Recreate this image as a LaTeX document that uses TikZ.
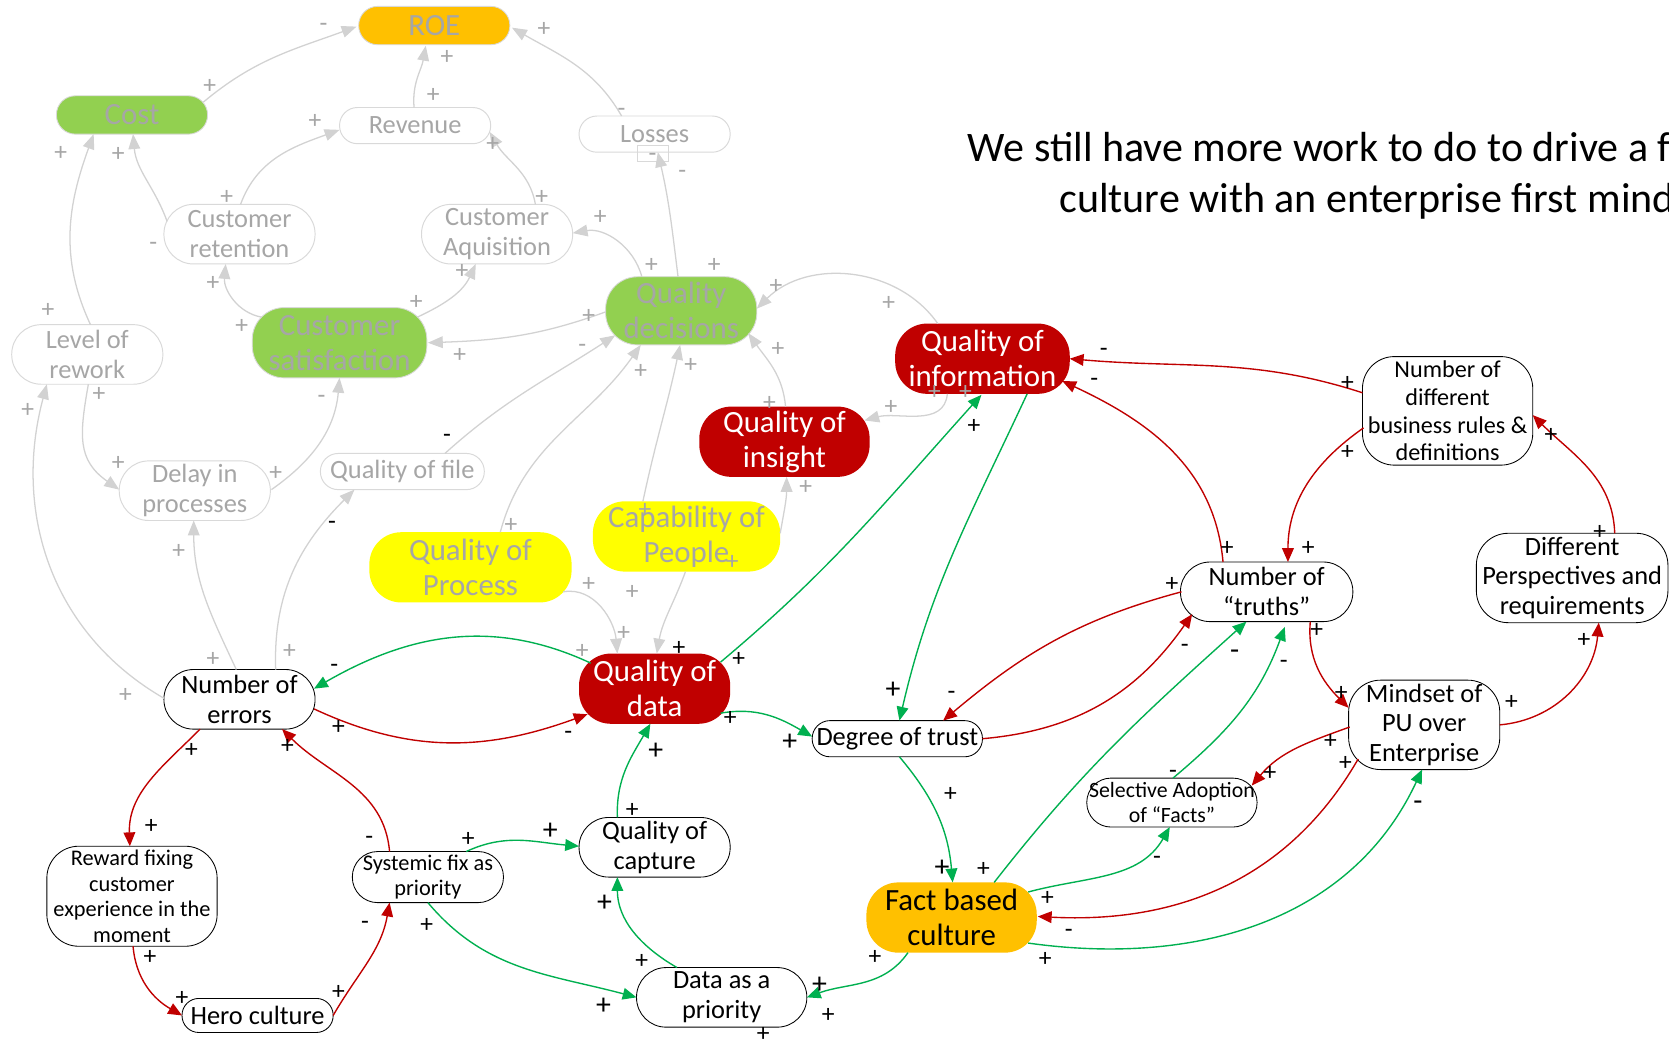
\documentclass[tikz,border=0pt]{standalone}
\usepackage{fontspec}
\setmainfont{Carlito}
\usetikzlibrary{arrows.meta,calc}
\definecolor{cRed}{HTML}{C00000}
\definecolor{cGreen}{HTML}{00B050}
\definecolor{cLime}{HTML}{92D050}
\definecolor{cOrange}{HTML}{FFC000}
\definecolor{cYellow}{HTML}{FFFF00}
\definecolor{fadeLine}{HTML}{D2D2D2}
\definecolor{fadeText}{HTML}{A6A6A6}
\definecolor{fadeBorder}{HTML}{D9D9D9}
\newcommand\fbig{\fontsize{29}{33}\selectfont}
\newcommand\fnorm{\fontsize{24.8}{28}\selectfont}
\newcommand\fbr{\fontsize{22.7}{26}\selectfont}
\newcommand\fsmall{\fontsize{21}{24}\selectfont}
\newcommand\fsel{\fontsize{20.5}{23}\selectfont}
\newcommand\flab{\fontsize{24}{24}\selectfont}
\newcommand\flabb{\fontsize{28}{28}\selectfont}
\newcommand\ftitle{\fontsize{39.5}{46}\selectfont}
\tikzset{
  nb/.style n args={3}{rectangle, rounded corners=#3pt, minimum width=#1pt, minimum height=#2pt, inner sep=0pt, align=center},
  fadebox/.style={draw=fadeBorder, line width=0.9pt, fill=white, text=fadeText},
  blackbox/.style={draw=black, line width=0.8pt, fill=white, text=black},
  redbox/.style={draw=none, fill=cRed, text=white},
  limebox/.style={draw=fadeBorder, line width=0.8pt, fill=cLime, text=fadeText},
  orangefade/.style={draw=fadeBorder, line width=0.8pt, fill=cOrange, text=fadeText},
  yellowbox/.style={draw=none, fill=cYellow, text=fadeText},
  orangebox/.style={draw=none, fill=cOrange, text=black},
  labg/.style={anchor=base, yshift=-8pt, inner sep=0pt, font=\flab, text=fadeText},
  labk/.style={anchor=base, yshift=-8pt, inner sep=0pt, font=\flab, text=black},
  labkb/.style={anchor=base, yshift=-9pt, inner sep=0pt, font=\flabb, text=black},
  gline/.style={draw=fadeLine, line width=1.2pt, -{Triangle[length=14pt,width=11pt]}},
  rline/.style={draw=cRed, line width=1.3pt, -{Triangle[length=13pt,width=11pt]}},
  gnline/.style={draw=cGreen, line width=1.3pt, -{Triangle[length=13pt,width=11pt]}},
}
\begin{document}
\begin{tikzpicture}[x=1pt,y=1pt]
\useasboundingbox (0,0) rectangle (1568,-981);
\clip (0,0) rectangle (1568,-981);
\fill[white] (0,0) rectangle (1568,-981);

% ---- faded upper part ----
\node[nb={142}{36}{17.8}, orangefade, font=\fbig] (roe) at (408,-24) {ROE};
\node[nb={142}{36}{17.8}, limebox, font=\fbig] (cost) at (124,-108) {Cost};
\node[nb={142}{34}{16.8}, fadebox, font=\fnorm] (revenue) at (390,-118) {Revenue};
\node[nb={142}{34}{16.8}, fadebox, font=\fnorm] (losses) at (615,-126) {Losses};
\node[draw=fadeBorder, line width=0.8pt, minimum width=29pt, minimum height=15pt, inner sep=0pt] (lossbox) at (613,-144) {};
\node[nb={142}{56}{27.8}, fadebox, font=\fnorm] (cret) at (225,-220) {Customer\\retention};
\node[nb={142}{56}{27.8}, fadebox, font=\fnorm] (caq) at (467,-220) {Customer\\Aquisition};
\node[nb={142}{64}{30}, limebox, font=\fbig] (qdec) at (640,-292) {Quality\\decisions};
\node[nb={164}{66}{30}, limebox, font=\fbig] (csat) at (319,-322) {Customer\\satisfaction};
\node[nb={142}{56}{27.8}, fadebox, font=\fnorm] (rework) at (82,-333) {Level of\\rework};
\node[nb={142}{56}{27.8}, fadebox, font=\fnorm] (delay) at (183,-461) {Delay in\\processes};
\node[nb={154}{34}{16.8}, fadebox, font=\fnorm] (qfile) at (378,-443) {Quality of file};
\node[nb={190}{66}{30}, yellowbox, font=\fbig] (qproc) at (442,-533) {Quality of\\Process};
\node[nb={176}{66}{30}, yellowbox, font=\fbig] (cap) at (645,-504) {Capability of\\People};

% ---- active part ----
\node[nb={160}{66}{30}, redbox, font=\fbig] (qins) at (737,-415) {Quality of\\insight};
\node[nb={164}{66}{30}, redbox, font=\fbig] (qinfo) at (923,-337) {Quality of\\information};
\node[nb={142}{56}{27.8}, blackbox, font=\fnorm] (errors) at (225,-657) {Number of\\errors};
\node[nb={142}{66}{30}, redbox, font=\fbig] (qdata) at (615,-647) {Quality of\\data};
\node[nb={160}{34}{16.8}, blackbox, font=\fnorm] (trust) at (843,-694) {Degree of trust};
\node[nb={162}{56}{27.8}, blackbox, font=\fnorm] (truths) at (1190,-556) {Number of\\“truths”};
\node[nb={160}{102}{30}, blackbox, font=\fbr] (brules) at (1360,-386) {Number of\\different\\business rules \&\\definitions};
\node[nb={180}{84}{30}, blackbox, font=\fnorm] (persp) at (1477,-543) {Different\\Perspectives and\\requirements};
\node[nb={142}{84}{30}, blackbox, font=\fnorm] (mindset) at (1338,-681) {Mindset of\\PU over\\Enterprise};
\node[nb={160}{46}{22.8}, blackbox, font=\fsel] (selad) at (1101,-754) {Selective Adoption\\of “Facts”};
\node[nb={160}{66}{30}, orangebox, font=\fbig] (fbc) at (894,-862) {Fact based\\culture};
\node[nb={160}{94}{30}, blackbox, font=\fsmall] (reward) at (124,-842) {Reward fixing\\customer\\experience in the\\moment};
\node[nb={142}{48}{23.8}, blackbox, font=\fsmall] (sysfix) at (402,-824) {Systemic fix as\\priority};
\node[nb={142}{56}{27.8}, blackbox, font=\fnorm] (qcap) at (615,-796) {Quality of\\capture};
\node[nb={142}{32}{15.8}, blackbox, font=\fnorm] (hero) at (242,-954) {Hero culture};
\node[nb={160}{56}{27.8}, blackbox, font=\fnorm] (dpri) at (678,-937) {Data as a\\priority};

\node[anchor=base west, font=\ftitle, inner sep=0pt] (title1) at (909,-152) {We still have more work to do to drive a fact based};
\node[anchor=base west, font=\ftitle, inner sep=0pt] (title2) at (995,-200) {culture with an enterprise first mindset};

% ---- faded connectors ----
\draw[gline] ($(cost)+(67,12)$) to[out=40,in=200] ($(roe)+(-73,-1)$);
\draw[gline] ($(revenue)+(-1,17)$) to[out=95,in=260] ($(roe)+(-8,-19)$);
\draw[gline] ($(losses)+(-31,17)$) to[out=120,in=-30] ($(roe)+(73,-2)$);
\draw[gline] ($(cret)+(1,28)$) to[out=70,in=200] ($(revenue)+(-71,-4)$);
\draw[gline] ($(caq)+(36,28)$) to[out=100,in=-60] ($(revenue)+(70,-6)$);
\draw[gline] ($(cret)+(-68,12)$) to[out=110,in=275] ($(cost)+(1,-18)$);
\draw[gline] ($(rework)+(3,28)$) to[out=115,in=250] ($(cost)+(-36,-18)$);
\draw[gline] ($(csat)+(-73,24)$) to[out=170,in=265] ($(cret)+(-13,-28)$);
\draw[gline] ($(csat)+(73,24)$) to[out=25,in=245] ($(caq)+(-20,-28)$);
\draw[gline] ($(qdec)+(-71,-1)$) to[out=200,in=2] ($(csat)+(83,0)$);
\draw[gline] ($(qdec)+(-37,32)$) to[out=105,in=10] ($(caq)+(71,1)$);
\draw[gline] ($(qdec)+(-3,32)$) to[out=97,in=-77] ($(losses)+(3,-17)$);
\draw[gline] ($(rework)+(1,-28)$) to[out=260,in=145,looseness=1.2] ($(delay)+(-71,1)$);
\draw[gline] ($(delay)+(72,1)$) to[out=35,in=265] ($(csat)+(0,-33)$);
\draw[gline] ($(qfile)+(40,17)$) to[out=42,in=213] ($(qdec)+(-62,-23)$);
\draw[gline] ($(errors)+(34,28)$) to[out=92,in=225] ($(qfile)+(-45,-17)$);
\draw[gline] ($(errors)+(-3,28)$) to[out=115,in=270] ($(delay)+(-1,-28)$);
\draw[gline] ($(errors)+(-71,1)$) to[out=150,in=255] ($(rework)+(-38,-28)$);
\draw[gline] ($(qproc)+(28,33)$) to[out=75,in=235] ($(qdec)+(-38,-32)$);
\draw[gline] ($(cap)+(-41,33)$) to[out=78,in=258] ($(qdec)+(-1,-32)$);
\draw[gline] ($(qins)+(1,33)$) to[out=95,in=-55] ($(qdec)+(63,-21)$);
\draw[gline] ($(qinfo)+(-42,33)$) to[out=125,in=45] ($(qdec)+(71,2)$);
\draw[gline] ($(qinfo)+(-33,-33)$) to[out=265,in=15] ($(qins)+(75,20)$);
\draw[gline] ($(cap)+(88,3)$) to[out=80,in=270] ($(qins)+(2,-33)$);
\draw[gline] ($(qproc)+(87,-23)$) to[out=10,in=95] ($(qdata)+(-35,33)$);
\draw[gline] ($(cap)+(-1,-33)$) to[out=250,in=80] ($(qdata)+(2,33)$);

% ---- red and green connectors ----
\draw[rline] ($(errors)+(70,-9)$) to[out=-25,in=200] ($(qdata)+(-63,-24)$);
\draw[gnline] ($(qdata)+(-60,24)$) to[out=155,in=30] ($(errors)+(70,10)$);
\draw[gnline] ($(qdata)+(62,25)$) to[out=40,in=228] ($(qinfo)+(-1,-34)$);
\draw[gnline] ($(qinfo)+(42,-33)$) to[out=245,in=77] ($(trust)+(2,17)$);
\draw[gnline] ($(qdata)+(62,-23)$) to[out=10,in=150] ($(trust)+(-80,2)$);
\draw[gnline] ($(qcap)+(-35,28)$) to[out=92,in=240] ($(qdata)+(-4,-33)$);
\draw[gnline] ($(sysfix)+(36,24)$) to[out=25,in=175] ($(qcap)+(-71,1)$);
\draw[gnline] ($(sysfix)+(0,-24)$) to[out=-50,in=165] ($(dpri)+(-80,0)$);
\draw[gnline] ($(dpri)+(-42,28)$) to[out=150,in=270] ($(qcap)+(-35,-28)$);
\draw[gnline] ($(fbc)+(-41,-33)$) to[out=235,in=20] ($(dpri)+(80,0)$);
\draw[gnline] ($(trust)+(2,-17)$) to[out=-50,in=95] ($(fbc)+(1,33)$);
\draw[gnline] ($(fbc)+(40,33)$) to[out=52,in=222] ($(truths)+(-19,-28)$);
\draw[gnline] ($(fbc)+(72,24)$) to[out=15,in=240] ($(selad)+(-2,-23)$);
\draw[gnline] ($(selad)+(1,23)$) to[out=40,in=250] ($(truths)+(17,-33)$);
\draw[gnline] ($(fbc)+(72,-24)$) to[out=-8,in=245] ($(mindset)+(-2,-42)$);
\draw[rline] ($(trust)+(80,0)$) to[out=5,in=235] ($(truths)+(-70,-21)$);
\draw[rline] ($(truths)+(-80,0)$) to[out=195,in=40] ($(trust)+(43,17)$);
\draw[rline] ($(truths)+(-41,28)$) to[out=95,in=-25] ($(qinfo)+(75,-21)$);
\draw[rline] ($(brules)+(-80,17)$) to[out=162,in=-5] ($(qinfo)+(82,0)$);
\draw[rline] ($(brules)+(-79,-16)$) to[out=215,in=90] ($(truths)+(20,28)$);
\draw[rline] ($(persp)+(40,42)$) to[out=92,in=-45] ($(brules)+(80,-4)$);
\draw[rline] ($(truths)+(41,-28)$) to[out=265,in=135] ($(mindset)+(-71,16)$);
\draw[rline] ($(mindset)+(71,0)$) to[out=5,in=265] ($(persp)+(25,-42)$);
\draw[rline] ($(mindset)+(-70,-2)$) to[out=200,in=50] ($(selad)+(75,16)$);
\draw[rline] ($(mindset)+(-62,-32)$) to[out=240,in=-3] ($(fbc)+(81,1)$);
\draw[rline] ($(errors)+(-37,-28)$) to[out=225,in=92] ($(reward)+(-2,47)$);
\draw[rline] ($(reward)+(1,-47)$) to[out=275,in=150] ($(hero)+(-71,0)$);
\draw[rline] ($(hero)+(71,0)$) to[out=60,in=260] ($(sysfix)+(-36,-24)$);
\draw[rline] ($(sysfix)+(-36,24)$) to[out=95,in=-45] ($(errors)+(40,-28)$);

% ---- polarity labels ----
\foreach \px/\py/\tx [count=\i] in {304/22/-, 511/26/+, 420/53/+, 407/88/+, 197/80/+, 296/113/+, 463/134/+, 584/101/-, 641/160/-, 613/144/-, 111/144/+, 57/143/+, 213/184/+, 509/184/+, 564/203/+, 144/227/-, 200/265/+, 434/254/+, 612/248/+, 671/248/+, 729/268/+, 835/284/+, 391/283/+, 227/305/+, 553/296/+, 432/333/+, 547/323/-, 731/327/+, 649/342/+, 602/348/+, 45/290/+, 93/369/+, 26/384/+, 302/371/-, 723/378/+, 878/367/+, 907/367/+, 837/381/+, 111/434/+, 259/443/+, 757/457/+, 480/492/+, 606/478/+, 688/527/+, 168/517/+, 553/548/+, 594/555/+, 586/594/+, 547/611/+, 200/618/+, 272/611/+, 118/652/+}
  \node[labg] (g\i) at (\px,-\py) {\tx};
\foreach \px/\py/\tx [count=\i] in {420/408/-, 312/489/-, 314/624/-, 318/682/+, 534/687/-, 638/608/+, 694/618/+, 915/399/+, 1037/327/-, 1028/355/-, 1266/359/+, 1266/424/+, 1457/408/+, 1153/514/+, 1229/514/+, 1503/499/+, 1101/548/+, 1237/591/+, 1113/605/-, 1206/620/-, 1488/600/+, 894/649/-, 1260/650/+, 1420/659/+, 686/674/+, 1250/695/+, 1264/716/+, 1193/725/+, 1102/723/-, 893/745/+, 180/704/+, 270/700/+, 142/775/+, 347/785/-, 440/787/+, 594/760/+, 924/815/+, 984/843/+, 1087/804/-, 1004/873/-, 982/900/+, 401/868/+, 343/865/-, 141/898/+, 171/937/+, 318/931/+, 603/902/+, 822/898/+, 778/953/+, 717/970/+}
  \node[labk] (k\i) at (\px,-\py) {\tx};
\foreach \px/\py/\tx [count=\i] in {1160/611/-, 839/647/+, 742/696/+, 616/705/+, 1332/752/-, 517/780/+, 885/814/+, 568/847/+, 567/944/+, 770/924/+}
  \node[labkb] (b\i) at (\px,-\py) {\tx};
\end{tikzpicture}
\end{document}
